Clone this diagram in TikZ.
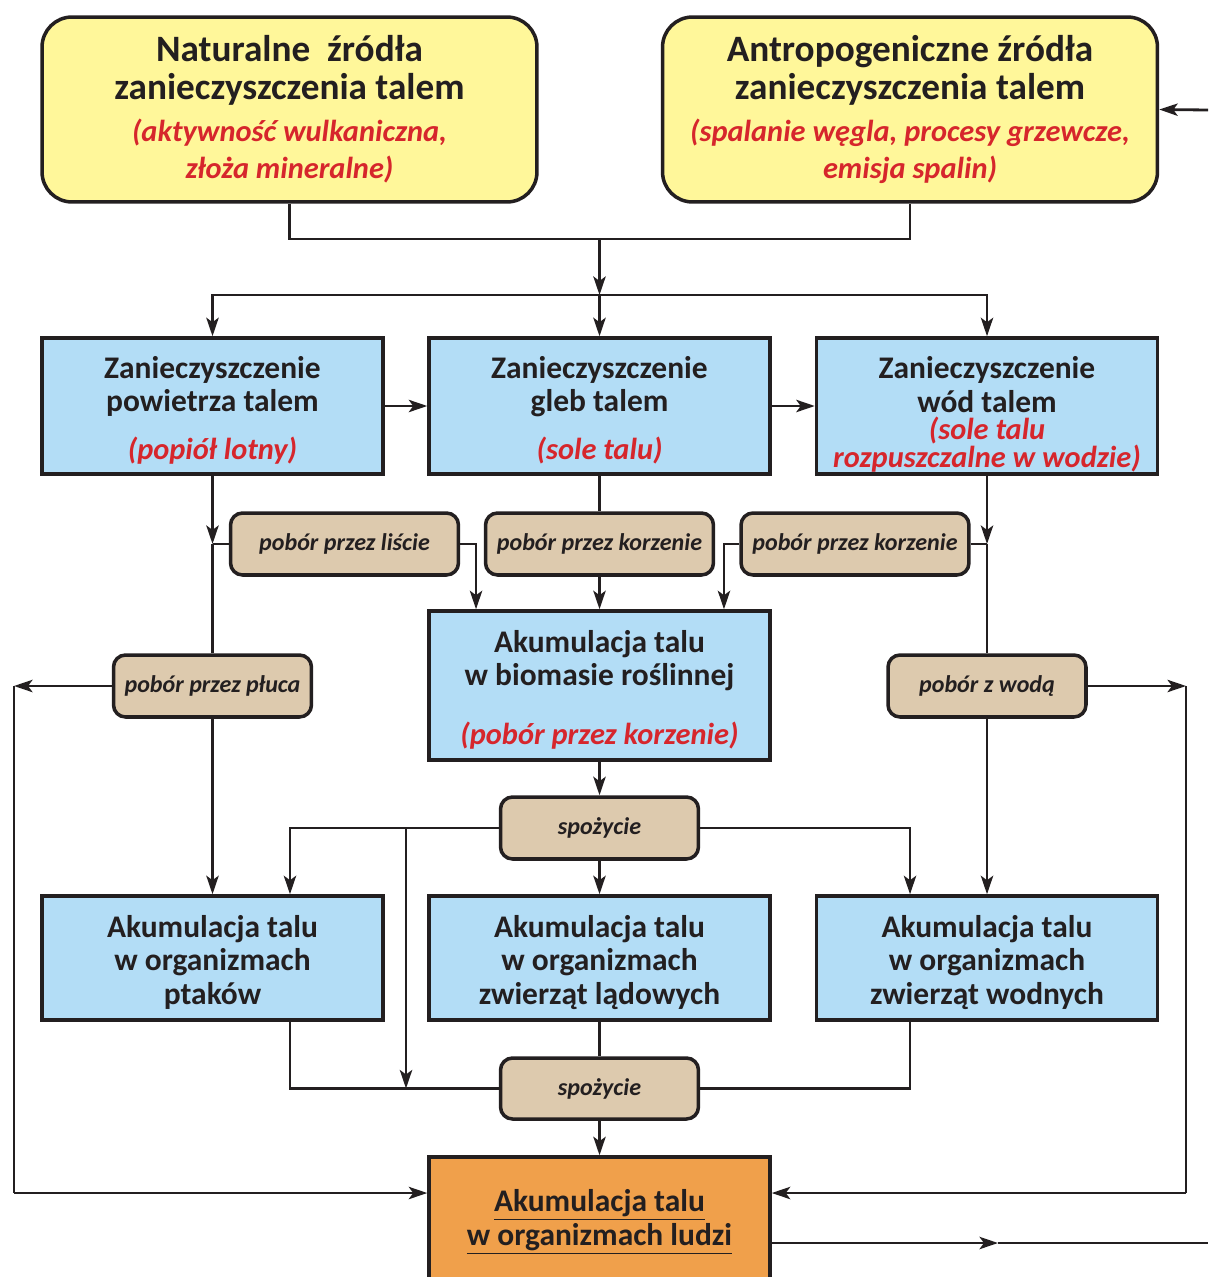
\documentclass[tikz,border=0pt]{standalone}
\usepackage{fontspec}
\setmainfont{Carlito}
\usetikzlibrary{arrows.meta, positioning}

\definecolor{srcyellow}{HTML}{FFF79A}
\definecolor{stageblue}{HTML}{B3DDF6}
\definecolor{tagtan}{HTML}{DDCAAE}
\definecolor{humanorange}{HTML}{F0A04B}
\definecolor{notered}{HTML}{D6262C}
\definecolor{ink}{HTML}{231F20}

\newcommand{\redtxt}[1]{{\fontsize{17.3}{18}\selectfont\color{notered}\itshape #1}}
\newcommand{\lift}[1]{\rule{0pt}{#1}}

\begin{document}
\begin{tikzpicture}[x=0.02cm, y=-0.02cm,
    source/.style={draw=ink, line width=2pt, fill=srcyellow, rounded corners=0.6cm,
        minimum width=9.9cm, minimum height=3.7cm, inner sep=0pt, align=center,
        font=\fontsize{21.2}{21.5}\selectfont\bfseries, text=ink},
    stagetxt/.style={inner sep=0pt, align=center,
        font=\fontsize{17.9}{19.1}\selectfont\bfseries, text=ink},
    stage/.style={stagetxt, draw=ink, line width=2pt, fill=stageblue,
        minimum width=6.82cm, minimum height=2.72cm},
    tag/.style={draw=ink, line width=2pt, fill=tagtan, rounded corners=0.24cm,
        minimum width=4.56cm, minimum height=1.24cm, inner sep=0pt,
        font=\fontsize{13.7}{16}\selectfont\bfseries\itshape, text=ink},
    human/.style={stage, fill=humanorange, minimum height=2.6cm},
    conn/.style={draw=ink, line width=1.6pt},
    arr/.style={conn, -{Stealth[length=10.5pt, width=7pt, inset=2.5pt]}}]

    \useasboundingbox (0,0) rectangle (1208,1277);

    % sources
    \node[source] (natural) at (289.5,109.5) {Naturalne~ źródła\\ zanieczyszczenia talem\\[2.5pt]
        \redtxt{(aktywność wulkaniczna,}\\[-0.6pt]
        \redtxt{złoża mineralne)}};
    \node[source] (anthro) at (910,109.5) {Antropogeniczne źródła\\ zanieczyszczenia talem\\[2.5pt]
        \redtxt{(spalanie węgla, procesy grzewcze,}\\[-0.6pt]
        \redtxt{emisja spalin)}};

    % pollution of air, soil, water
    \node[stage] (air) at (212.5,406) {\lift{17.5pt}Zanieczyszczenie\\ powietrza talem\\[8.1pt]
        \redtxt{(popiół lotny)}};
    \node[stage] (soil) at (599.5,406) {\lift{17.5pt}Zanieczyszczenie\\ gleb talem\\[8.1pt]
        \redtxt{(sole talu)}};
    \node[stage] (water) at (987,406) {};
    \node[stagetxt] (watertxt) at ([yshift=-0.17cm]water.center) {Zanieczyszczenie\\ wód talem\\[-3.8pt]
        \redtxt{(sole talu}\\[-3.2pt] \redtxt{rozpuszczalne w wodzie)}};

    % uptake
    \node[tag] (lisc) at (344.5,544) {pobór przez liście};
    \node[tag] (korz1) at (599.5,544) {pobór przez korzenie};
    \node[tag] (korz2) at (855,544) {pobór przez korzenie};
    \node[stage, minimum height=2.98cm] (biomass) at (599.5,685.5) {\lift{17.5pt}Akumulacja talu\\ w biomasie roślinnej\\[14.3pt]
        \redtxt{(pobór przez korzenie)}};
    \node[tag, minimum width=3.96cm] (pluca) at (212.5,686) {pobór przez płuca};
    \node[tag, minimum width=3.96cm] (zwoda) at (987,686) {pobór z wodą};

    % food chain
    \node[tag, minimum width=3.96cm] (spoz1) at (599.5,828) {spożycie};
    \node[stage, minimum height=2.48cm] (ptaki) at (212.5,958) {\lift{17.5pt}Akumulacja talu\\ w organizmach\\ ptaków};
    \node[stage, minimum height=2.48cm] (lad) at (599.5,958) {\lift{17.5pt}Akumulacja talu\\ w organizmach\\ zwierząt lądowych};
    \node[stage, minimum height=2.48cm] (wodne) at (987,958) {\lift{17.5pt}Akumulacja talu\\ w organizmach\\ zwierząt wodnych};
    \node[tag, minimum width=3.96cm, minimum height=1.22cm] (spoz2) at (599.5,1088.5) {spożycie};
    \node[human] (human) at (599.5,1222) {\underline{Akumulacja talu}\\ \underline{w organizmach ludzi}};

    % helper points
    \coordinate (jtop) at (599.5,239);
    \coordinate (jsplit) at (599.5,295);
    \coordinate (jair) at (air.south |- lisc.west);
    \coordinate (jwat) at (water.south |- korz2.east);
    \coordinate (jmid) at (406,828);
    \coordinate (lpl) at (14,686);
    \coordinate (lpb) at (14,1193);
    \coordinate (rpl) at (1186,686);
    \coordinate (rpb) at (1186,1193);
    \coordinate (ain) at (1208,110);
    \coordinate (hmid) at (998,1243);
    \coordinate (hend) at (1208,1243);

    % sources to pollution
    \draw[conn] (natural.south) |- (jtop) -| (anthro.south);
    \draw[arr] (jtop) -- (jsplit);
    \draw[arr] (jsplit) -| (air.north);
    \draw[arr] (jsplit) -| (water.north);
    \draw[arr] (jsplit) -- (soil.north);
    \draw[arr] (ain) -- (anthro.east);
    \draw[arr] (air) -- (soil);
    \draw[arr] (soil) -- (water);

    % uptake paths
    \draw[arr] (air.south) -- (jair);
    \draw[conn] (lisc.west) -- (jair);
    \draw[conn] (jair) -- (pluca.north);
    \draw[arr] (lisc.east) -| ([xshift=-2.47cm]biomass.north);
    \draw[conn] (soil.south) -- (korz1.north);
    \draw[arr] (korz1.south) -- (biomass.north);
    \draw[arr] (korz2.west) -| ([xshift=2.49cm]biomass.north);
    \draw[arr] (water.south) -- (jwat);
    \draw[conn] (korz2.east) -- (jwat);
    \draw[conn] (jwat) -- (zwoda.north);

    % lungs and water to humans
    \draw[arr] (pluca.west) -- (lpl);
    \draw[conn] (lpl) -- (lpb);
    \draw[arr] (lpb) -- (lpb -| human.west);
    \draw[arr] (zwoda.east) -- (rpl);
    \draw[conn] (rpl) -- (rpb);
    \draw[arr] (rpb) -- (rpb -| human.east);
    \draw[arr] (pluca.south) -- (pluca.south |- ptaki.north);
    \draw[arr] (zwoda.south) -- (zwoda.south |- wodne.north);

    % consumption
    \draw[arr] (biomass.south) -- (spoz1.north);
    \draw[arr] (spoz1.west) -| ([xshift=1.55cm]ptaki.north);
    \draw[arr] (spoz1.south) -- (lad.north);
    \draw[arr] (spoz1.east) -| ([xshift=-1.54cm]wodne.north);
    \draw[arr] (jmid) -- (jmid |- spoz2.west);
    \draw[conn] ([xshift=1.55cm]ptaki.south) |- (spoz2.west);
    \draw[conn] ([xshift=-1.54cm]wodne.south) |- (spoz2.east);
    \draw[conn] (lad.south) -- (spoz2.north);
    \draw[arr] (spoz2.south) -- (human.north);
    \draw[arr] (human.east |- hmid) -- (hmid);
    \draw[conn] (hmid) -- (hend);
\end{tikzpicture}
\end{document}
